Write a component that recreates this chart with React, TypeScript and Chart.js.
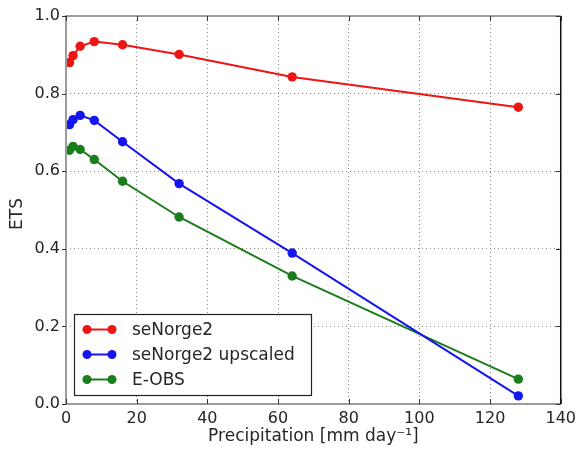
import React, { useEffect, useRef } from 'react';
import { Chart, registerables } from 'chart.js';

Chart.register(...registerables);

const precipitation = [1, 2, 4, 8, 16, 32, 64, 128];
const seNorge2 = [0.88, 0.898, 0.922, 0.934, 0.926, 0.901, 0.843, 0.765];
const seNorge2Upscaled = [0.72, 0.733, 0.744, 0.731, 0.676, 0.568, 0.389, 0.021];
const eObs = [0.654, 0.664, 0.656, 0.63, 0.574, 0.482, 0.33, 0.064];
const seriesNames = ['seNorge2', 'seNorge2 upscaled', 'E-OBS'];
const seriesColors = ['#ee1515', '#1515ee', '#1b7d1b'];
const xTicks = [0, 20, 40, 60, 80, 100, 120, 140];
const yTicks = [0, 0.2, 0.4, 0.6, 0.8, 1.0];
const xTitle = 'Precipitation [mm day\u207B\u00B9]';
const yTitle = 'ETS';

const FONT = "'DejaVu Sans', sans-serif";

const overlayPlugin = {
  id: 'overlay',
  afterDatasetsDraw(chart: any) {
    const { ctx, chartArea } = chart;
    const { left, right, top, bottom } = chartArea;
    const xs = chart.scales.x;
    const ys = chart.scales.y;
    ctx.save();
    // frame
    ctx.lineCap = 'butt';
    ctx.strokeStyle = '#9c9c9c';
    ctx.lineWidth = 2;
    ctx.beginPath();
    ctx.moveTo(left, bottom);
    ctx.lineTo(left, top);
    ctx.lineTo(right, top);
    ctx.moveTo(left, bottom);
    ctx.lineTo(right, bottom);
    ctx.stroke();
    ctx.strokeStyle = '#111';
    ctx.lineWidth = 1.5;
    ctx.beginPath();
    ctx.moveTo(right, top);
    ctx.lineTo(right, bottom);
    ctx.stroke();
    // ticks
    ctx.strokeStyle = '#333';
    ctx.lineWidth = 1;
    ctx.beginPath();
    xTicks.forEach((v) => {
      const px = Math.round(xs.getPixelForValue(v)) + 0.5;
      ctx.moveTo(px, bottom);
      ctx.lineTo(px, bottom - 5);
      ctx.moveTo(px, top);
      ctx.lineTo(px, top + 5);
    });
    yTicks.forEach((v) => {
      const py = Math.round(ys.getPixelForValue(v)) + 0.5;
      ctx.moveTo(left - 4, py);
      ctx.lineTo(left, py);
      ctx.moveTo(right, py);
      ctx.lineTo(right - 5, py);
    });
    ctx.stroke();

    // legend
    const bx = 74, by = 314, bw = 237, bh = 81;
    ctx.fillStyle = '#fff';
    ctx.fillRect(bx, by, bw, bh);
    ctx.strokeStyle = '#222';
    ctx.lineWidth = 1.2;
    ctx.strokeRect(bx + 0.5, by + 0.5, bw, bh);
    ctx.font = `17px ${FONT}`;
    ctx.textBaseline = 'middle';
    ctx.textAlign = 'left';
    seriesNames.forEach((name, i) => {
      const yy = by + 15.5 + i * 25;
      const c = seriesColors[i];
      ctx.strokeStyle = c;
      ctx.lineWidth = 2;
      ctx.beginPath();
      ctx.moveTo(87, yy);
      ctx.lineTo(112, yy);
      ctx.stroke();
      ctx.fillStyle = c;
      [87, 112].forEach((mx) => {
        ctx.beginPath();
        ctx.arc(mx, yy, 4.5, 0, Math.PI * 2);
        ctx.fill();
      });
      ctx.fillStyle = '#262626';
      ctx.fillText(name, 132, yy + 1);
    });

    // axis titles
    ctx.fillStyle = '#262626';
    ctx.font = `17px ${FONT}`;
    ctx.textAlign = 'center';
    ctx.textBaseline = 'middle';
    ctx.fillText(xTitle, (left + right) / 2, 437);
    ctx.save();
    ctx.translate(18, (top + bottom) / 2 + 4);
    ctx.rotate(-Math.PI / 2);
    ctx.fillText(yTitle, 0, 0);
    ctx.restore();
    ctx.restore();
  },
};

export default function App() {
  const canvasRef = useRef<HTMLCanvasElement | null>(null);

  useEffect(() => {
    if (!canvasRef.current) return;
    const allSeries = [seNorge2, seNorge2Upscaled, eObs];
    const tickFont = { family: FONT, size: 16 };
    const chart = new Chart(canvasRef.current, {
      type: 'line',
      data: {
        datasets: allSeries.map((vals, i) => ({
          label: seriesNames[i],
          data: precipitation.map((x, j) => ({ x, y: vals[j] })),
          borderColor: seriesColors[i],
          backgroundColor: seriesColors[i],
          pointBackgroundColor: seriesColors[i],
          pointBorderColor: seriesColors[i],
          pointRadius: 4.7,
          pointBorderWidth: 0,
          borderWidth: 2,
          tension: 0,
          fill: false,
        })),
      },
      options: {
        responsive: false,
        animation: false,
        devicePixelRatio: 1,
        layout: { padding: { top: 16, right: 15, left: 0, bottom: 0 } },
        plugins: { legend: { display: false }, tooltip: { enabled: false } },
        scales: {
          x: {
            type: 'linear',
            min: 0,
            max: 140,
            afterBuildTicks: (s: any) => {
              s.ticks = xTicks.map((v) => ({ value: v }));
            },
            ticks: { font: tickFont, color: '#262626', padding: 5, maxRotation: 0, autoSkip: false },
            grid: { color: '#8a8a8a', drawTicks: false, lineWidth: 1 },
            border: { display: false, dash: [1, 3] },
            afterFit: (s: any) => {
              s.height = 45;
            },
          },
          y: {
            type: 'linear',
            min: 0,
            max: 1,
            afterBuildTicks: (s: any) => {
              s.ticks = yTicks.map((v) => ({ value: v }));
            },
            ticks: {
              font: tickFont,
              color: '#262626',
              padding: 6,
              autoSkip: false,
              callback: (v: any) => Number(v).toFixed(1),
            },
            grid: { color: '#8a8a8a', drawTicks: false, lineWidth: 1 },
            border: { display: false, dash: [1, 3] },
            afterFit: (s: any) => {
              s.width = 66;
            },
          },
        },
      },
      plugins: [overlayPlugin],
    } as any);
    return () => chart.destroy();
  }, []);

  return (
    <div style={{ position: 'fixed', left: 0, top: 0, width: 581, height: 449, background: '#fff' }}>
      <canvas ref={canvasRef} width={581} height={449} style={{ display: 'block' }} />
    </div>
  );
}
